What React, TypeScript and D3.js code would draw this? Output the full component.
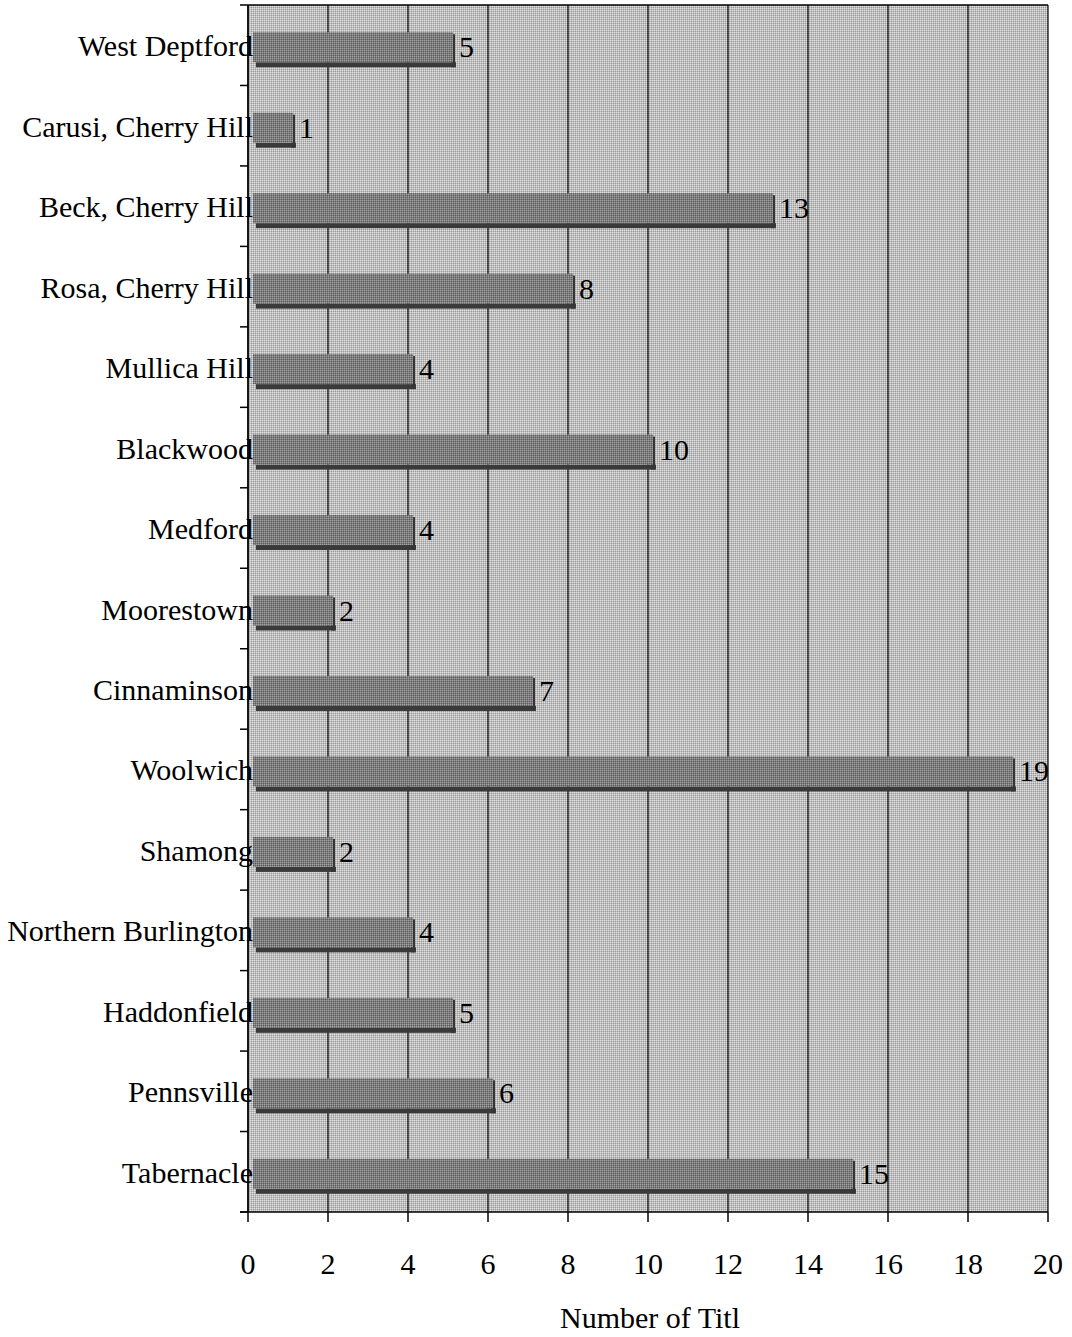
import React from "react";
import * as d3 from "d3";

const categories = [
  "West Deptford",
  "Carusi, Cherry Hill",
  "Beck, Cherry Hill",
  "Rosa, Cherry Hill",
  "Mullica Hill",
  "Blackwood",
  "Medford",
  "Moorestown",
  "Cinnaminson",
  "Woolwich",
  "Shamong",
  "Northern Burlington",
  "Haddonfield",
  "Pennsville",
  "Tabernacle",
];
const values = [5, 1, 13, 8, 4, 10, 4, 2, 7, 19, 2, 4, 5, 6, 15];
const xTicks = [0, 2, 4, 6, 8, 10, 12, 14, 16, 18, 20];
const xTitle = "Number of Titl";

const W = 1072;
const H = 1337;
const FONT = "'Liberation Serif', 'Times New Roman', serif";

export default function App() {
  const x = d3.scaleLinear().domain([0, 20]).range([248, 1048]);
  const y = d3.scaleBand<string>().domain(categories).range([5, 1212]).padding(0);
  const bw = y.bandwidth();
  const top = 5;
  const bottom = 1212;

  return (
    <svg
      width={W}
      height={H}
      style={{ position: "absolute", left: 0, top: 0, background: "#fff" }}
      fontFamily={FONT}
    >
      <defs>
        <pattern id="bg" width="2" height="2" patternUnits="userSpaceOnUse">
          <rect width="2" height="2" fill="#bfbfbf" />
          <rect x="0" y="0" width="1" height="1" fill="#e0e0e0" />
          <rect x="1" y="1" width="1" height="1" fill="#9a9a9a" />
        </pattern>
        <pattern id="bar" width="2" height="2" patternUnits="userSpaceOnUse">
          <rect width="2" height="2" fill="#7e7e7e" />
          <rect x="0" y="0" width="1" height="1" fill="#a0a0a0" />
          <rect x="1" y="1" width="1" height="1" fill="#5a5a5a" />
        </pattern>
      </defs>

      {/* plot background */}
      <rect x={x(0)} y={top} width={x(20) - x(0)} height={bottom - top} fill="url(#bg)" />
      {/* top border */}
      <line x1={x(0)} x2={x(20)} y1={top} y2={top} stroke="#000" strokeWidth={1.5} />

      {/* gridlines */}
      {xTicks.map((t) => (
        <line key={"g" + t} x1={x(t)} x2={x(t)} y1={top} y2={bottom} stroke="#000" strokeWidth={1.2} />
      ))}

      {/* bars */}
      {categories.map((c, i) => {
        const cy = (y(c) as number) + bw / 2;
        const v = values[i];
        const x0 = x(0);
        const x1 = x(v);
        return (
          <g key={c}>
            <rect x={x0 + 8} y={cy + 17} width={x1 - x0} height={5} fill="#3a3a3a" />
            <rect x={x1 + 3} y={cy - 11} width={4} height={33} fill="#363636" />
            <rect x={x0 + 5} y={cy - 13} width={x1 - x0} height={30} fill="url(#bar)" />
            <text x={x1 + 11} y={cy + 12} fontSize={30} fill="#000">
              {v}
            </text>
          </g>
        );
      })}

      {/* axes */}
      <line x1={x(0)} x2={x(0)} y1={top} y2={bottom} stroke="#000" strokeWidth={1.5} />
      <line x1={x(0) - 8} x2={x(20)} y1={bottom} y2={bottom} stroke="#000" strokeWidth={1.5} />
      {d3.range(categories.length + 1).map((i) => {
        const yy = i < categories.length ? (y(categories[i]) as number) : bottom;
        return <line key={"yt" + i} x1={x(0) - 8} x2={x(0)} y1={yy} y2={yy} stroke="#000" strokeWidth={1.5} />;
      })}
      {xTicks.map((t) => (
        <g key={"xt" + t}>
          <line x1={x(t)} x2={x(t)} y1={bottom} y2={bottom + 10} stroke="#000" strokeWidth={1.5} />
          <text x={x(t)} y={1274} fontSize={30} textAnchor="middle" fill="#000">
            {t}
          </text>
        </g>
      ))}

      {/* category labels */}
      {categories.map((c) => {
        const cy = (y(c) as number) + bw / 2;
        return (
          <text key={"l" + c} x={253} y={cy + 11} fontSize={30} textAnchor="end" fill="#000">
            {c}
          </text>
        );
      })}

      <text x={650} y={1328} fontSize={30} textAnchor="middle" fill="#000">
        {xTitle}
      </text>
    </svg>
  );
}
